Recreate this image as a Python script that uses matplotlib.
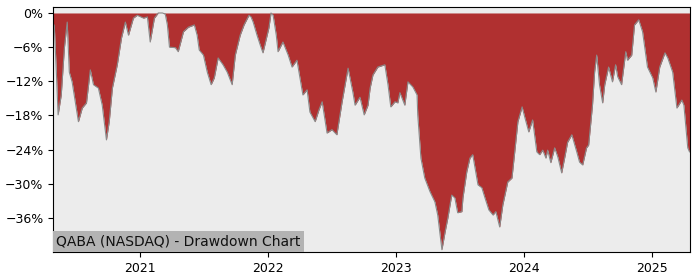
import matplotlib
matplotlib.use("Agg")
import matplotlib.pyplot as plt
import matplotlib.dates as mdates
from matplotlib.ticker import FuncFormatter
import pandas as pd

dates = [
    "2020-04-27", "2020-04-30", "2020-05-06", "2020-05-11", "2020-05-20", "2020-05-29",
    "2020-06-06", "2020-06-12", "2020-06-20", "2020-06-29", "2020-07-08", "2020-07-19",
    "2020-07-31", "2020-08-11", "2020-08-20", "2020-09-03", "2020-09-14", "2020-09-26",
    "2020-10-04", "2020-10-13", "2020-10-27", "2020-11-08", "2020-11-19", "2020-11-28",
    "2020-12-12", "2020-12-23",
    "2021-01-10", "2021-01-21", "2021-01-29", "2021-02-10", "2021-02-21", "2021-03-05",
    "2021-03-13", "2021-03-19", "2021-03-25", "2021-04-11", "2021-04-19", "2021-05-04",
    "2021-05-18", "2021-06-04", "2021-06-12", "2021-06-18", "2021-06-30", "2021-07-11",
    "2021-07-22", "2021-07-31", "2021-08-11", "2021-08-25", "2021-09-06", "2021-09-20",
    "2021-09-29", "2021-10-13", "2021-10-24", "2021-11-07", "2021-11-13", "2021-11-19",
    "2021-11-30", "2021-12-09", "2021-12-17",
    "2022-01-03", "2022-01-09", "2022-01-15", "2022-01-24", "2022-01-29", "2022-02-12",
    "2022-02-27", "2022-03-10", "2022-03-24", "2022-04-10", "2022-04-22", "2022-04-30",
    "2022-05-15", "2022-05-26", "2022-06-04", "2022-06-18", "2022-07-02", "2022-07-16",
    "2022-07-31", "2022-08-17", "2022-08-31", "2022-09-06", "2022-09-20", "2022-10-02",
    "2022-10-13", "2022-10-19", "2022-10-27", "2022-11-10", "2022-11-30", "2022-12-09",
    "2022-12-17", "2022-12-29",
    "2023-01-06", "2023-01-12", "2023-01-26", "2023-02-04", "2023-02-18", "2023-03-02",
    "2023-03-04", "2023-03-13", "2023-03-24", "2023-04-08", "2023-04-22", "2023-04-30",
    "2023-05-06", "2023-05-12", "2023-05-21", "2023-05-29", "2023-06-09", "2023-06-18",
    "2023-06-26", "2023-07-08", "2023-07-11", "2023-07-22", "2023-07-31", "2023-08-08",
    "2023-08-23", "2023-09-03", "2023-09-12", "2023-09-23", "2023-10-05", "2023-10-13",
    "2023-10-24", "2023-11-02", "2023-11-16", "2023-11-28", "2023-12-06", "2023-12-15",
    "2023-12-27",
    "2024-01-04", "2024-01-15", "2024-01-26", "2024-02-07", "2024-02-15", "2024-02-24",
    "2024-03-04", "2024-03-09", "2024-03-18", "2024-03-29", "2024-04-07", "2024-04-18",
    "2024-04-27", "2024-05-05", "2024-05-17", "2024-05-31", "2024-06-08", "2024-06-17",
    "2024-06-28", "2024-07-04", "2024-07-15", "2024-07-21", "2024-07-27", "2024-08-04",
    "2024-08-13", "2024-08-19", "2024-08-30", "2024-09-10", "2024-09-19", "2024-09-25",
    "2024-10-06", "2024-10-18", "2024-10-23", "2024-11-04", "2024-11-12", "2024-11-24",
    "2024-12-05", "2024-12-19",
    "2025-01-03", "2025-01-12", "2025-01-23", "2025-02-07", "2025-02-15", "2025-03-01",
    "2025-03-13", "2025-03-27", "2025-04-02", "2025-04-13", "2025-04-18",
]

drawdown_pct = [
    -3.0, -2.1, -10.4, -17.9, -14.4, -6.1,
    -1.6, -10.4, -12.1, -15.6, -19.1, -16.7,
    -15.8, -10.0, -12.6, -13.2, -16.2, -22.3,
    -19.1, -13.2, -9.1, -4.4, -1.6, -3.9,
    -0.9, -0.4,
    -0.9, -0.7, -5.1, -0.9, 0.0, 0.0,
    -0.2, -2.1, -6.0, -6.1, -6.8, -3.3,
    -2.5, -2.1, -3.9, -6.5, -7.4, -10.4,
    -12.6, -11.4, -7.9, -9.1, -10.4, -12.6,
    -7.4, -3.9, -2.1, -0.4, -0.7, -1.6,
    -3.9, -5.6, -7.0,
    -2.6, 0.0, -0.4, -3.9, -6.8, -5.1,
    -7.4, -9.5, -8.3, -14.4, -13.5, -17.4,
    -19.1, -17.0, -15.6, -21.1, -20.5, -21.4,
    -15.6, -9.7, -14.0, -16.2, -14.8, -17.9,
    -16.2, -13.2, -10.9, -9.5, -9.1, -12.6,
    -16.5, -15.6,
    -15.8, -14.0, -16.2, -12.1, -13.0, -14.4,
    -17.9, -25.5, -29.0, -31.4, -33.2, -35.5,
    -38.5, -41.6, -38.5, -36.0, -32.0, -32.5,
    -35.1, -34.9, -32.5, -27.9, -25.5, -24.9,
    -30.2, -30.7, -32.5, -34.6, -35.5, -34.9,
    -37.6, -33.7, -29.7, -29.0, -24.4, -19.1,
    -16.5,
    -18.4, -20.9, -18.8, -24.4, -24.9, -24.1,
    -25.5, -24.1, -26.3, -23.7, -25.3, -28.1,
    -25.3, -22.7, -21.4, -24.4, -26.2, -26.7,
    -23.7, -23.2, -16.2, -10.4, -7.4, -12.6,
    -15.8, -12.6, -9.5, -12.1, -9.1, -11.2,
    -12.6, -6.8, -8.3, -7.4, -2.1, -1.2,
    -3.3, -9.5,
    -11.4, -13.9, -9.5, -7.0, -7.9, -10.4,
    -16.7, -15.3, -16.2, -23.7, -24.4,
]

y_ticks = [0, -6, -12, -18, -24, -30, -36]
title_text = "QABA (NASDAQ) - Drawdown Chart"

x = pd.to_datetime(dates)

fig = plt.figure(figsize=(7, 2.8), dpi=100)
ax = fig.add_axes([0.076, 0.1, 0.91, 0.875])
ax.set_facecolor("#ececec")

ax.fill_between(x, drawdown_pct, 0, color="#b03030", linewidth=0)
ax.plot(x, drawdown_pct, color="#8a8a8a", linewidth=0.8)

ax.set_xlim(x[0], x[-1] + pd.Timedelta(days=2))
ax.set_ylim(-42.0, 1.05)
ax.set_yticks(y_ticks)
ax.yaxis.set_major_formatter(FuncFormatter(lambda v, p: f"{int(v)}%".replace("-", "\u2212")))
ax.xaxis.set_major_locator(mdates.YearLocator())
ax.xaxis.set_major_formatter(mdates.DateFormatter("%Y"))
ax.tick_params(labelsize=9)

ax.annotate(title_text, xy=(0.0, 0.0), xycoords="axes fraction",
            xytext=(2.2, 2.4), textcoords="offset points",
            fontsize=10, ha="left", va="bottom", color="#111111",
            bbox=dict(facecolor="#b3b3b3", edgecolor="none", pad=2.4))

fig.savefig("out.png", dpi=100)
